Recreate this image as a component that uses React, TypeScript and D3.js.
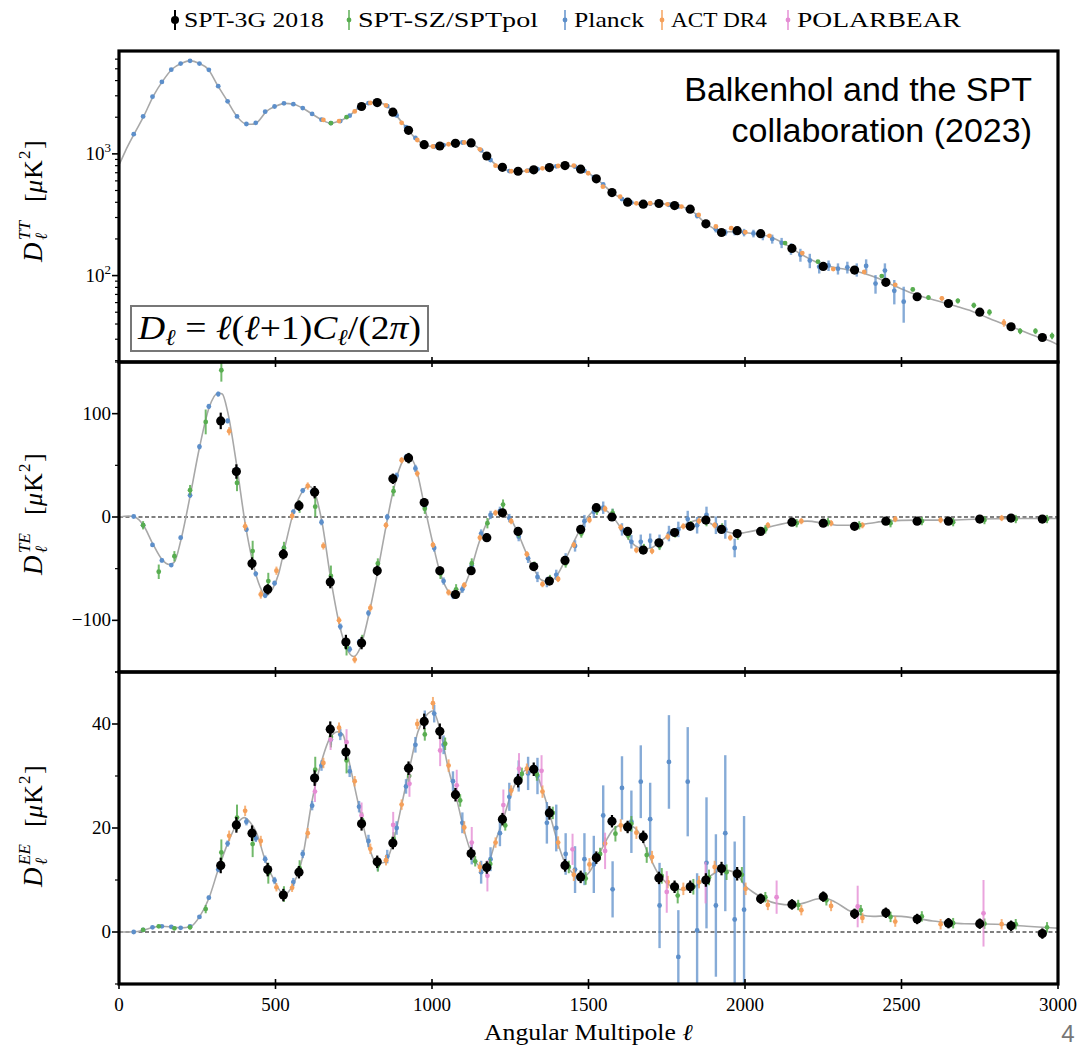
import React from "react";
import * as d3 from "d3";

type Pt = [number, number, number]; // ell, D_ell, error
type Th = [number, number];

// ---------------- theory curves ----------------
const theoryTT: Th[] = [
  [2, 830], [20, 1050], [50, 1480], [80, 2060], [110, 3000], [140, 3980], [170, 4980], [200, 5560], [227, 5810], [255, 5560],
  [285, 4950], [315, 3650], [345, 2750], [375, 2060], [405, 1760], [425, 1750], [445, 1850], [470, 2220], [500, 2460], [530, 2600],
  [555, 2570], [585, 2390], [615, 2140], [645, 1920], [675, 1790], [705, 1860], [735, 2050], [765, 2380], [795, 2600], [825, 2660],
  [855, 2480], [885, 2080], [915, 1680], [945, 1360], [975, 1190], [1005, 1150], [1035, 1175], [1065, 1220], [1095, 1240], [1125, 1215],
  [1155, 1080], [1185, 900], [1215, 775], [1245, 725], [1275, 715], [1305, 725], [1340, 750], [1375, 772], [1425, 800], [1475, 755],
  [1525, 625], [1575, 485], [1625, 405], [1675, 388], [1725, 390], [1775, 375], [1825, 348], [1875, 268], [1925, 230], [1975, 228],
  [2025, 222], [2075, 210], [2125, 183], [2175, 152], [2225, 130], [2275, 118], [2325, 112], [2375, 105], [2425, 95], [2475, 83],
  [2525, 73], [2575, 66], [2625, 61], [2675, 56], [2725, 51], [2775, 45], [2825, 40], [2875, 36], [2925, 32], [2975, 29], [3000, 27],
];

const theoryTE: Th[] = [
  [2, 0], [30, 1], [50, 0], [78, -8], [108, -26], [137, -41], [160, -46], [176, -44], [198, -22], [227, 20],
  [257, 67], [288, 106], [317, 120], [330, 119], [347, 102], [377, 48], [403, -6], [426, -42], [450, -67], [468, -76],
  [490, -70], [510, -55], [527, -33], [557, 4], [587, 25], [605, 30], [620, 27], [648, -4], [676, -59], [704, -104],
  [727, -127], [750, -135], [770, -127], [800, -92], [825, -55], [850, -14], [875, 24], [900, 50], [922, 60], [950, 46],
  [975, 12], [1000, -22], [1025, -53], [1050, -71], [1075, -77], [1100, -69], [1125, -50], [1150, -25], [1175, -6], [1200, 4],
  [1225, 6], [1250, -1], [1275, -16], [1300, -34], [1325, -50], [1350, -61], [1375, -63], [1400, -56], [1425, -42], [1450, -26],
  [1475, -11], [1500, 1], [1525, 7], [1550, 7], [1575, 1], [1600, -9], [1625, -20], [1650, -28], [1675, -31], [1700, -30],
  [1725, -25], [1750, -19], [1775, -14], [1800, -9], [1825, -5], [1850, -3], [1875, -4], [1900, -8], [1925, -12], [1950, -15],
  [1975, -16], [2000, -15], [2050, -12], [2100, -8], [2150, -5], [2200, -4], [2250, -6], [2300, -8], [2350, -8], [2400, -6],
  [2450, -4], [2550, -3], [2650, -3], [2750, -2], [2850, -1.5], [3000, -1.5],
];

const theoryEE: Th[] = [
  [2, 0], [50, 0.05], [80, 0.4], [110, 0.9], [135, 1.1], [165, 1.0], [200, 0.8], [230, 1.1], [257, 2.9], [288, 6.6],
  [317, 12], [347, 17], [377, 20.8], [400, 22], [420, 21], [440, 19], [466, 14], [496, 9.9], [527, 7.2], [557, 9.2],
  [587, 14.5], [616, 25], [648, 33], [676, 37.5], [700, 38.5], [715, 38], [738, 32], [767, 24], [795, 17], [825, 13.2],
  [850, 13.4], [876, 17.3], [905, 25], [930, 32], [955, 38.5], [980, 41.5], [1003, 42.5], [1026, 38.8], [1052, 31.5], [1079, 25.5],
  [1103, 19.5], [1127, 15], [1155, 12.6], [1177, 13], [1203, 17.5], [1228, 21.8], [1254, 26.8], [1280, 30], [1310, 31.3], [1330, 30.8],
  [1352, 27.5], [1377, 22.5], [1400, 17.5], [1427, 13], [1450, 11.3], [1476, 10.5], [1500, 11.3], [1526, 14], [1553, 17.2], [1580, 19.8],
  [1610, 20.6], [1640, 20.3], [1660, 19.2], [1690, 15.2], [1725, 11], [1752, 9.3], [1780, 8.3], [1805, 8.1], [1830, 8.4], [1860, 9.5],
  [1890, 10.8], [1925, 11.9], [1950, 11.8], [1975, 11], [2002, 8.8], [2030, 7.5], [2060, 6.4], [2100, 5.5], [2150, 5.2], [2190, 5.6],
  [2225, 6.3], [2255, 6.5], [2290, 5.7], [2330, 4.2], [2370, 3.3], [2410, 3.0], [2450, 3.1], [2500, 3.0], [2550, 2.6], [2600, 2.1],
  [2650, 1.8], [2700, 1.6], [2750, 1.55], [2800, 1.5], [2850, 1.35], [2900, 1.1], [2950, 0.9], [3000, 0.75],
];

// ---------------- TT band powers ----------------
const planckTT: Pt[] = [
  [47, 1450, 30], [77, 2030, 35], [107, 2950, 45], [137, 3900, 55], [167, 4920, 65], [197, 5520, 70], [227, 5810, 70], [257, 5520, 65],
  [287, 4900, 60], [317, 3600, 45], [347, 2700, 35], [377, 2030, 28], [407, 1760, 24], [437, 1800, 24], [467, 2220, 28], [497, 2450, 30],
  [527, 2600, 30], [557, 2560, 30], [587, 2380, 28], [617, 2130, 26], [647, 1910, 24], [677, 1790, 22], [707, 1860, 22], [737, 2060, 24],
  [767, 2400, 28], [797, 2610, 30], [827, 2650, 30], [857, 2470, 28], [887, 2070, 25], [917, 1660, 22], [947, 1350, 20], [977, 1190, 18],
  [1007, 1150, 18], [1037, 1180, 18], [1067, 1220, 18], [1097, 1240, 18], [1127, 1210, 18], [1157, 1070, 17], [1187, 890, 15], [1217, 770, 14],
  [1247, 722, 13], [1277, 715, 13], [1307, 728, 13], [1337, 748, 14], [1367, 770, 14], [1397, 790, 15], [1427, 800, 16], [1457, 785, 16],
  [1487, 725, 16], [1517, 645, 15], [1547, 560, 14], [1577, 480, 13], [1607, 425, 12], [1637, 398, 12], [1667, 388, 12], [1697, 390, 13],
  [1727, 390, 14], [1757, 382, 14], [1787, 370, 15], [1817, 352, 15], [1847, 310, 15], [1877, 268, 14], [1907, 240, 14], [1937, 226, 14],
  [1967, 229, 15], [1997, 226, 16], [2027, 222, 16], [2057, 212, 17], [2087, 200, 17], [2117, 186, 18], [2147, 166, 18], [2177, 148, 18],
  [2207, 133, 18], [2237, 118, 14], [2267, 121, 12], [2297, 114, 12], [2327, 117, 13], [2357, 112, 14], [2387, 120, 16], [2417, 86, 15],
  [2447, 110, 16], [2477, 75, 17], [2507, 61, 20],
];
const actTT: Pt[] = [
  [653, 1900, 30], [703, 1860, 28], [753, 2230, 30], [803, 2620, 32], [853, 2500, 30], [903, 1800, 25], [953, 1300, 20], [1003, 1150, 18],
  [1053, 1200, 18], [1103, 1240, 18], [1153, 1090, 16], [1203, 800, 14], [1253, 720, 12], [1303, 725, 12], [1353, 760, 12], [1403, 795, 13],
  [1453, 801, 13], [1499, 693, 12], [1546, 538, 10], [1601, 445, 9], [1653, 392, 8], [1697, 393, 8], [1752, 385, 8], [1797, 369, 8],
  [1852, 315, 7], [1907, 253, 6], [1956, 245, 6], [2001, 227, 6], [2078, 212, 5], [2183, 153, 5], [2282, 113, 4], [2381, 107, 4],
  [2480, 84, 3], [2629, 65, 3], [2827, 41, 3],
];
const sptszTT: Pt[] = [
  [677, 1786, 30], [727, 2000, 30], [777, 2480, 30], [827, 2650, 30], [877, 2200, 26], [927, 1580, 20], [977, 1180, 16], [1027, 1170, 15],
  [1077, 1230, 15], [1127, 1220, 15], [1177, 950, 13], [1227, 770, 11], [1277, 712, 10], [1327, 740, 10], [1377, 775, 10], [1427, 800, 10],
  [1477, 752, 10], [1527, 620, 9], [1577, 478, 8], [1627, 400, 7], [1677, 388, 7], [1727, 392, 7], [1777, 372, 7], [1827, 345, 6],
  [1877, 262, 6], [1927, 228, 5], [1977, 230, 5], [2128, 185, 5], [2233, 130, 4], [2437, 99, 3], [2536, 77, 3], [2586, 66, 3],
  [2680, 62, 3], [2731, 57, 3], [2781, 50, 3], [2879, 35, 2], [2928, 35, 2], [2981, 32, 2],
];
const spt3gTT: Pt[] = [
  [775, 2450, 40], [825, 2640, 40], [875, 2200, 35], [925, 1560, 25], [975, 1190, 20], [1025, 1160, 18], [1075, 1220, 18], [1125, 1230, 18],
  [1175, 960, 15], [1225, 775, 12], [1275, 720, 11], [1325, 740, 11], [1375, 771, 11], [1425, 801, 11], [1475, 748, 10], [1525, 624, 9],
  [1575, 481, 8], [1625, 401, 7], [1675, 386, 7], [1725, 391, 7], [1775, 376, 7], [1825, 351, 6], [1875, 266, 5], [1925, 226, 5],
  [1975, 234, 5], [2050, 221, 4], [2150, 167, 4], [2250, 119, 3], [2350, 111, 3], [2450, 88, 3], [2550, 67, 2], [2650, 59, 2],
  [2750, 50, 2], [2850, 38, 2], [2950, 31, 2],
];

// ---------------- TE band powers ----------------
const planckTE: Pt[] = [
  [47, 0.5, 1.5], [77, -8, 2], [107, -27, 2], [137, -42, 2], [167, -46.5, 2], [197, -20, 2], [227, 21, 2.5], [257, 68, 2.5],
  [287, 107, 2.5], [317, 119, 2.5], [347, 93, 2.5], [377, 46, 2.5], [407, -12, 2.5], [437, -55, 2.5], [467, -76, 2.5], [497, -64, 2.5],
  [527, -30, 2.5], [557, 5, 2.5], [587, 25.6, 2.5], [617, 24.6, 2.5], [647, -5, 3], [677, -60, 3], [707, -106, 3], [737, -128, 3],
  [767, -121, 3], [797, -93, 3], [827, -50, 3], [857, 0, 3], [887, 40, 3], [917, 58, 3], [947, 47, 3.5], [977, 10, 3.5],
  [1007, -30, 3.5], [1037, -62, 3.5], [1067, -76, 3.5], [1097, -70, 3.5], [1127, -47, 4], [1157, -16, 4], [1187, 2, 4], [1217, 6, 4],
  [1247, -1, 4], [1277, -19, 4.5], [1307, -40, 4.5], [1337, -58, 5], [1367, -63, 5], [1397, -56, 5], [1427, -40, 5], [1457, -28, 5.5],
  [1487, -4, 6], [1517, 5, 6], [1547, 9, 6], [1577, 2, 6], [1607, -12, 6], [1637, -24, 6.5], [1667, -24, 7], [1697, -23, 7],
  [1727, -24, 7], [1757, -16, 7.5], [1787, -12, 7.5], [1817, -2, 8], [1847, -8, 8], [1877, 2, 8], [1907, -8, 8.5], [1937, -12, 9],
  [1967, -30, 9],
];
const actTE: Pt[] = [
  [352, 83, 4], [403, -9, 4], [453, -75, 4], [503, -52, 4], [553, 1, 3.5], [603, 30, 3.5], [653, -28, 3.5], [703, -100, 3.5],
  [753, -138, 3.5], [803, -88, 3.5], [853, -8, 3], [903, 55, 3], [953, 42, 3], [1003, -27, 3], [1053, -73, 3], [1103, -66, 3],
  [1153, -20, 3], [1203, 4, 3], [1253, -4, 3], [1303, -36, 3], [1353, -65, 3], [1403, -60, 3], [1453, -27, 3], [1503, -3, 3],
  [1553, 8, 3], [1603, -10, 3], [1653, -32, 3], [1703, -33, 3], [1753, -19, 3], [1803, -9, 3], [1853, -4, 3], [1903, -8, 3],
  [1953, -20, 3], [2073, -8, 3], [2180, -4, 3], [2275, -6, 3], [2375, -8, 3], [2480, -2, 3], [2625, -3, 3], [2820, -1, 3],
];
const sptszTE: Pt[] = [
  [77, -8, 4], [127, -53, 7], [177, -38, 5], [227, 26, 5], [277, 92, 12], [327, 142, 11], [377, 33, 8], [427, -33, 10],
  [477, -62, 8], [527, -30, 6], [577, 10, 6], [627, 10, 10], [677, -57, 10], [727, -126, 8], [777, -120, 6], [827, -45, 5],
  [877, 25, 5], [927, 57, 5], [977, 8, 5], [1027, -55, 5], [1077, -70, 5], [1127, -45, 5], [1177, -6, 5], [1227, 12, 5],
  [1277, -15, 5], [1327, -47, 4], [1377, -60, 4], [1427, -45, 4], [1477, -16, 4], [1527, 6, 4], [1577, 4, 4], [1627, -18, 4],
  [1677, -30, 4], [1727, -28, 4], [1777, -16, 4], [1827, -8, 4], [1877, -5, 4], [1927, -10, 4], [1977, -18, 4], [2065, -12, 4],
  [2165, -6, 4], [2265, -5, 4], [2365, -8, 4], [2465, -6, 4], [2565, -4, 4], [2665, -5, 4], [2765, -3, 4], [2865, -2, 4],
  [2965, -2, 4],
];
const spt3gTE: Pt[] = [
  [325, 93, 8], [375, 44, 7], [425, -45, 6], [475, -70, 5], [525, -36, 5], [575, 11, 5], [625, 24, 6], [675, -63, 6],
  [725, -121, 7], [775, -122, 6], [825, -52, 5], [875, 37, 5], [925, 57, 5], [975, 14, 4], [1025, -52, 4], [1075, -75, 4],
  [1125, -52, 4], [1175, -20, 4], [1225, 4, 3.5], [1275, -14, 3.5], [1325, -48, 3.5], [1375, -62, 3.5], [1425, -42, 3.5], [1475, -12, 3.5],
  [1525, 9, 3.5], [1575, 0, 3.5], [1625, -14, 3.5], [1675, -32, 3.5], [1725, -25, 3.5], [1775, -15, 3.5], [1825, -9, 3.5], [1875, -3, 3.5],
  [1925, -12, 3.5], [1975, -16, 3.5], [2050, -14, 3], [2150, -5, 3], [2250, -6, 3], [2350, -9, 3], [2450, -4, 3], [2550, -4, 3],
  [2650, -4, 3], [2750, -2, 3], [2850, -1, 3], [2950, -2, 3],
];

// ---------------- EE band powers ----------------
const planckEE: Pt[] = [
  [47, 0, 0.2], [77, 0.4, 0.2], [107, 0.9, 0.2], [137, 1.1, 0.2], [167, 1.0, 0.2], [197, 0.8, 0.2], [227, 1.1, 0.3], [257, 2.9, 0.3],
  [287, 6.6, 0.4], [317, 12, 0.5], [347, 17, 0.6], [377, 21, 0.7], [407, 21.2, 0.7], [437, 18, 0.7], [467, 14, 0.7], [497, 9.9, 0.7],
  [527, 7.5, 0.7], [557, 9.6, 0.8], [587, 15, 0.8], [617, 24.3, 0.9], [647, 32, 1], [677, 37, 1], [707, 38, 1.1], [737, 30.9, 1.1],
  [767, 24.1, 1.1], [797, 17.5, 1.2], [827, 13, 1.2], [857, 14.5, 1.3], [887, 20, 1.3], [917, 28, 1.4], [947, 36, 1.5], [977, 41, 1.6],
  [1007, 42, 1.7], [1037, 36, 1.8], [1067, 29, 1.9], [1097, 21, 2], [1127, 15, 2], [1157, 11.5, 2.2], [1187, 14, 2.3], [1217, 19, 2.5],
  [1247, 26, 2.7], [1277, 30, 3], [1307, 30.5, 3.2], [1337, 30, 3.5], [1367, 21, 4], [1397, 20, 4.5], [1427, 15, 4], [1457, 12, 4.5],
  [1487, 14, 5], [1517, 13, 5.5], [1547, 22.4, 5.8], [1577, 8.2, 5.4], [1607, 27.7, 6.1], [1637, 21.2, 6], [1667, 28.9, 7], [1697, 21.7, 7],
  [1727, 5.1, 8.2], [1757, 32.7, 9], [1787, -4.8, 9], [1817, 28.9, 10.5], [1847, 0.3, 11], [1877, 13.3, 12.6], [1907, 5.1, 13.7], [1937, 19, 15],
  [1967, 2.4, 15], [1997, 4.3, 18],
];
const actEE: Pt[] = [
  [352, 18.5, 1], [403, 23.3, 1], [453, 17.5, 1], [503, 8.6, 0.8], [553, 8.5, 0.8], [603, 19, 1], [653, 32.5, 1], [703, 39.3, 1],
  [753, 29, 1], [803, 16, 1], [853, 13.8, 1], [903, 24.5, 1], [953, 40, 1], [1003, 44, 1.2], [1053, 32, 1.2], [1103, 20.1, 1.2],
  [1153, 12.5, 1], [1203, 17.2, 1], [1253, 27.2, 1], [1303, 31.4, 1], [1353, 27, 1.2], [1403, 17.2, 1.2], [1453, 11, 1.2], [1503, 13, 1.2],
  [1553, 17, 1.2], [1603, 20.5, 1.2], [1653, 19.1, 1.2], [1703, 14.4, 1.2], [1753, 9.6, 1.2], [1803, 8.3, 1.2], [1853, 9.6, 1.2], [1903, 12.5, 1.2],
  [2002, 8.3, 1.2], [2073, 5.2, 1], [2180, 4.2, 1], [2275, 5.0, 1], [2375, 2.7, 1], [2480, 2.0, 1], [2625, 1.5, 1], [2820, 1.5, 1],
];
const sptszEE: Pt[] = [
  [77, 0.4, 0.3], [127, 1.1, 0.3], [177, 0.7, 0.3], [227, 0.9, 0.4], [277, 4.4, 0.8], [327, 15.3, 2.5], [377, 22, 2.5], [427, 16.9, 2.5],
  [477, 11.3, 2], [527, 7.3, 1.5], [577, 12.3, 1.5], [627, 31.2, 2.5], [677, 37.5, 2], [727, 33, 2.5], [777, 21.5, 1.5], [827, 12.8, 1.2],
  [877, 18, 1.2], [927, 30, 1.2], [977, 38, 1.2], [1042, 36.2, 1.2], [1090, 25.3, 1.2], [1138, 13.6, 1], [1186, 13.1, 1], [1234, 20.5, 1],
  [1287, 30.4, 1.2], [1335, 30.3, 1.2], [1386, 22.9, 1.2], [1437, 12.5, 1.2], [1491, 10.3, 1.2], [1537, 15, 1.2], [1586, 18.9, 1.5], [1637, 20.8, 1.5],
  [1686, 14.8, 1.5], [1734, 10.8, 1.5], [1785, 7.0, 1.5], [1835, 8.7, 1.5], [1885, 10.5, 1.5], [1941, 11.5, 1.5], [1990, 11, 1.5], [2065, 6.7, 1],
  [2170, 5.2, 1], [2260, 6.1, 1], [2370, 4.2, 1], [2465, 2.9, 1], [2565, 3.0, 1], [2665, 1.7, 1], [2765, 1.6, 1], [2865, 1.5, 1],
  [2965, 0.9, 1],
];
const polarbearEE: Pt[] = [
  [626, 27, 2], [676, 37, 2], [727, 36.5, 2.5], [775, 22.4, 2.5], [876, 20.6, 2.5], [928, 28.5, 2.5], [1026, 34.9, 3], [1079, 28.2, 3],
  [1127, 17.2, 3], [1177, 10.8, 3], [1228, 24.4, 3], [1278, 31.4, 3], [1350, 31, 3], [1449, 15.9, 3], [1553, 15.6, 3.5], [1750, 7.7, 4],
  [1874, 9.5, 4], [2101, 6.7, 3.2], [2360, 4.9, 4], [2762, 3.6, 6.4],
];
const spt3gEE: Pt[] = [
  [325, 12.8, 1.5], [375, 20.6, 1.5], [425, 19, 1.5], [475, 12, 1.3], [525, 7.1, 1.2], [575, 11.5, 1.2], [625, 29.6, 1.5], [675, 39, 1.5],
  [725, 34.6, 1.5], [775, 20.8, 1.3], [825, 13.5, 1.2], [875, 17.1, 1.2], [925, 31.5, 1.3], [975, 40.5, 1.5], [1025, 38.6, 1.5], [1075, 26.4, 1.3],
  [1125, 15.1, 1.2], [1175, 12.4, 1.2], [1225, 21.7, 1.2], [1275, 29.1, 1.3], [1325, 31.3, 1.3], [1375, 22.9, 1.3], [1425, 12.8, 1.2], [1475, 10.6, 1.2],
  [1525, 14.3, 1.2], [1575, 21.3, 1.2], [1625, 20.2, 1.2], [1675, 18.3, 1.2], [1725, 10.4, 1.2], [1775, 8.7, 1.2], [1825, 8.7, 1.2], [1875, 10, 1.3],
  [1925, 12.2, 1.3], [1975, 11.2, 1.3], [2050, 6.4, 1], [2150, 5.3, 1], [2250, 6.8, 1], [2350, 3.5, 1], [2450, 3.7, 1], [2550, 2.5, 1],
  [2650, 1.7, 1], [2750, 1.6, 1], [2850, 1.2, 1], [2950, -0.3, 1],
];

// ---------------- ticks / labels ----------------
const xTicks = [0, 500, 1000, 1500, 2000, 2500, 3000];
const ttMajor = [100, 1000];
const ttMinor = [20, 30, 40, 50, 60, 70, 80, 90, 200, 300, 400, 500, 600, 700, 800, 900, 2000, 3000, 4000, 5000, 6000];
const teMajor = [-100, 0, 100];
const teMinor = [-150, -50, 50, 150];
const eeMajor = [0, 20, 40];
const eeMinor = [-10, 10, 30, 50];
const legendLabels = ["SPT-3G 2018", "SPT-SZ/SPTpol", "Planck", "ACT DR4", "POLARBEAR"];

// ---------------- styles ----------------
const SERIF = "'Liberation Serif', 'DejaVu Serif', serif";
const SANS = "'Liberation Sans', Arial, sans-serif";
const BLUE = "#5d8fca";
const ORANGE = "#f5a05a";
const GREEN = "#58ad50";
const PINK = "#e58dd4";
const X0 = 119, X1 = 1058;

type Style = { color: string; r: number; sw: number; op: number };
const stPlanck: Style = { color: BLUE, r: 2.4, sw: 2.4, op: 0.75 };
const stAct: Style = { color: ORANGE, r: 2.4, sw: 2, op: 0.8 };
const stSptsz: Style = { color: GREEN, r: 2.4, sw: 2, op: 0.85 };
const stPb: Style = { color: PINK, r: 2.4, sw: 2, op: 0.8 };
const st3g: Style = { color: "#000", r: 4.6, sw: 2.2, op: 1 };

// legend layout
const legendMarkerX = [175, 349, 565, 662, 788];
const legendTextW = [140, 180, 70, 96, 164];
const legendColors = ["#000", GREEN, BLUE, ORANGE, PINK];

function Series({ data, x, y, st, log }: { data: Pt[]; x: any; y: any; st: Style; log?: boolean }) {
  return (
    <g>
      {data.map(([l, v, e], i) => {
        const lo = log ? Math.max(v - e, 1) : v - e;
        return (
          <g key={i}>
            <line x1={x(l)} x2={x(l)} y1={y(lo)} y2={y(v + e)} stroke={st.color} strokeWidth={st.sw} strokeOpacity={st.op} />
            <circle cx={x(l)} cy={y(v)} r={st.r} fill={st.color} />
          </g>
        );
      })}
    </g>
  );
}

function YTitle({ x, y, sup }: { x: number; y: number; sup: string }) {
  return (
    <g transform={`translate(${x},${y}) rotate(-90)`} fontFamily={SERIF} fill="#000">
      <text x={0} y={0} fontSize={27} fontStyle="italic">D</text>
      <text x={22} y={-12} fontSize={17} fontStyle="italic">{sup}</text>
      <text x={22} y={5} fontSize={17} fontStyle="italic">ℓ</text>
      <text x={60} y={0} fontSize={26}>[</text>
      <text x={69} y={0} fontSize={26} fontStyle="italic">μ</text>
      <text x={83} y={0} fontSize={26}>K</text>
      <text x={103} y={-12} fontSize={17}>2</text>
      <text x={113} y={0} fontSize={26}>]</text>
    </g>
  );
}

export default function App() {
  const x = d3.scaleLinear().domain([0, 3000]).range([X0, X1]);
  const yTT = d3.scaleLog().domain([19.5, 7000]).range([362, 51]);
  const yTE = d3.scaleLinear().domain([-150, 150]).range([672, 362]);
  const yEE = d3.scaleLinear().domain([-10, 50]).range([984, 672]);

  const mkLine = (y: any) =>
    d3.line<Th>().x((d) => x(d[0])).y((d) => y(d[1])).curve(d3.curveMonotoneX);

  const panels = [
    { id: "tt", y: yTT, top: 51, bottom: 362, theory: theoryTT, log: true,
      sets: [[planckTT, stPlanck], [actTT, stAct], [sptszTT, stSptsz], [spt3gTT, st3g]] as [Pt[], Style][] },
    { id: "te", y: yTE, top: 362, bottom: 672, theory: theoryTE, log: false,
      sets: [[planckTE, stPlanck], [actTE, stAct], [sptszTE, stSptsz], [spt3gTE, st3g]] as [Pt[], Style][] },
    { id: "ee", y: yEE, top: 672, bottom: 984, theory: theoryEE, log: false,
      sets: [[planckEE, stPlanck], [actEE, stAct], [sptszEE, stSptsz], [polarbearEE, stPb], [spt3gEE, st3g]] as [Pt[], Style][] },
  ];

  return (
    <svg width={1079} height={1050} style={{ position: "absolute", left: 0, top: 0, background: "#fff" }}>
      <rect x={0} y={0} width={1079} height={1050} fill="#fff" />
      <defs>
        {panels.map((p) => (
          <clipPath id={`clip-${p.id}`} key={p.id}>
            <rect x={X0} y={p.top} width={X1 - X0} height={p.bottom - p.top} />
          </clipPath>
        ))}
      </defs>

      {panels.map((p) => (
        <g key={p.id}>
          <g clipPath={`url(#clip-${p.id})`}>
            {!p.log && (
              <line x1={X0} x2={X1} y1={p.y(0)} y2={p.y(0)} stroke="#000" strokeWidth={1.1} strokeDasharray="4 2.5" />
            )}
            <path d={mkLine(p.y)(p.theory) || ""} fill="none" stroke="#a8a8a8" strokeWidth={1.6} />
            {p.sets.map(([data, st], i) => (
              <Series key={i} data={data} x={x} y={p.y} st={st} log={p.log} />
            ))}
          </g>
        </g>
      ))}

      {/* frames */}
      {panels.map((p) => (
        <rect key={`f-${p.id}`} x={X0} y={p.top} width={X1 - X0} height={p.bottom - p.top} fill="none" stroke="#000" strokeWidth={3.2} />
      ))}

      {/* x ticks on panel boundaries */}
      {[362, 672, 984].map((yy) =>
        xTicks.map((t) => (
          <line key={`xt-${yy}-${t}`} x1={x(t)} x2={x(t)} y1={yy - 5} y2={yy + 5} stroke="#000" strokeWidth={1.6} />
        ))
      )}
      {xTicks.map((t) => (
        <text key={`xl-${t}`} x={x(t)} y={1011} textAnchor="middle" fontFamily={SERIF} fontSize={19}>{t}</text>
      ))}
      <text x={484} y={1040} fontFamily={SERIF} fontSize={23} textLength={209} lengthAdjust="spacingAndGlyphs">
        Angular Multipole <tspan fontStyle="italic">ℓ</tspan>
      </text>

      {/* TT y axis */}
      {ttMajor.map((t) => (
        <g key={`ttM-${t}`}>
          <line x1={X0 - 7} x2={X0} y1={yTT(t)} y2={yTT(t)} stroke="#000" strokeWidth={1.6} />
          <text x={111} y={yTT(t) + 6} textAnchor="end" fontFamily={SERIF} fontSize={19}>
            10<tspan fontSize={13} dy={-8}>{Math.round(Math.log10(t))}</tspan>
          </text>
        </g>
      ))}
      {ttMinor.map((t) => (
        <line key={`ttm-${t}`} x1={X0 - 4} x2={X0} y1={yTT(t)} y2={yTT(t)} stroke="#000" strokeWidth={1.2} />
      ))}
      {/* TE y axis */}
      {teMajor.map((t) => (
        <g key={`teM-${t}`}>
          <line x1={X0 - 7} x2={X0} y1={yTE(t)} y2={yTE(t)} stroke="#000" strokeWidth={1.6} />
          <text x={111} y={yTE(t) + 6} textAnchor="end" fontFamily={SERIF} fontSize={19}>{t < 0 ? `−${-t}` : t}</text>
        </g>
      ))}
      {teMinor.map((t) => (
        <line key={`tem-${t}`} x1={X0 - 4} x2={X0} y1={yTE(t)} y2={yTE(t)} stroke="#000" strokeWidth={1.2} />
      ))}
      {/* EE y axis */}
      {eeMajor.map((t) => (
        <g key={`eeM-${t}`}>
          <line x1={X0 - 7} x2={X0} y1={yEE(t)} y2={yEE(t)} stroke="#000" strokeWidth={1.6} />
          <text x={111} y={yEE(t) + 6} textAnchor="end" fontFamily={SERIF} fontSize={19}>{t}</text>
        </g>
      ))}
      {eeMinor.map((t) => (
        <line key={`eem-${t}`} x1={X0 - 4} x2={X0} y1={yEE(t)} y2={yEE(t)} stroke="#000" strokeWidth={1.2} />
      ))}

      <YTitle x={42} y={262} sup="TT" />
      <YTitle x={42} y={575} sup="TE" />
      <YTitle x={42} y={887} sup="EE" />

      {/* formula box */}
      <rect x={131} y={306} width={297} height={45} fill="#fff" stroke="#777" strokeWidth={2} />
      <text x={138} y={339} fontFamily={SERIF} fontSize={34} textLength={283} lengthAdjust="spacingAndGlyphs">
        <tspan fontStyle="italic">D</tspan>
        <tspan fontStyle="italic" fontSize={23} dy={6}>ℓ</tspan>
        <tspan dy={-6}>{" = "}</tspan>
        <tspan fontStyle="italic">ℓ</tspan>
        <tspan>(</tspan>
        <tspan fontStyle="italic">ℓ</tspan>
        <tspan>+1)</tspan>
        <tspan fontStyle="italic">C</tspan>
        <tspan fontStyle="italic" fontSize={23} dy={6}>ℓ</tspan>
        <tspan dy={-6}>/(2</tspan>
        <tspan fontStyle="italic">π</tspan>
        <tspan>)</tspan>
      </text>

      {/* annotation */}
      <text x={1032} y={101} textAnchor="end" fontFamily={SANS} fontSize={34}>Balkenhol and the SPT</text>
      <text x={1032} y={142} textAnchor="end" fontFamily={SANS} fontSize={34}>collaboration (2023)</text>

      {/* legend */}
      {legendLabels.map((lab, i) => (
        <g key={lab}>
          <line x1={legendMarkerX[i]} x2={legendMarkerX[i]} y1={10} y2={30} stroke={legendColors[i]} strokeWidth={i === 0 ? 2 : 1.8} strokeOpacity={i === 0 ? 1 : 0.8} />
          <circle cx={legendMarkerX[i]} cy={20} r={i === 0 ? 4 : 2.4} fill={legendColors[i]} />
          <text x={legendMarkerX[i] + 9} y={27} fontFamily={SERIF} fontSize={21} textLength={legendTextW[i]} lengthAdjust="spacingAndGlyphs">{lab}</text>
        </g>
      ))}

      <text x={1068} y={1042} textAnchor="middle" fontFamily={SANS} fontSize={24} fill="#777">4</text>
    </svg>
  );
}
